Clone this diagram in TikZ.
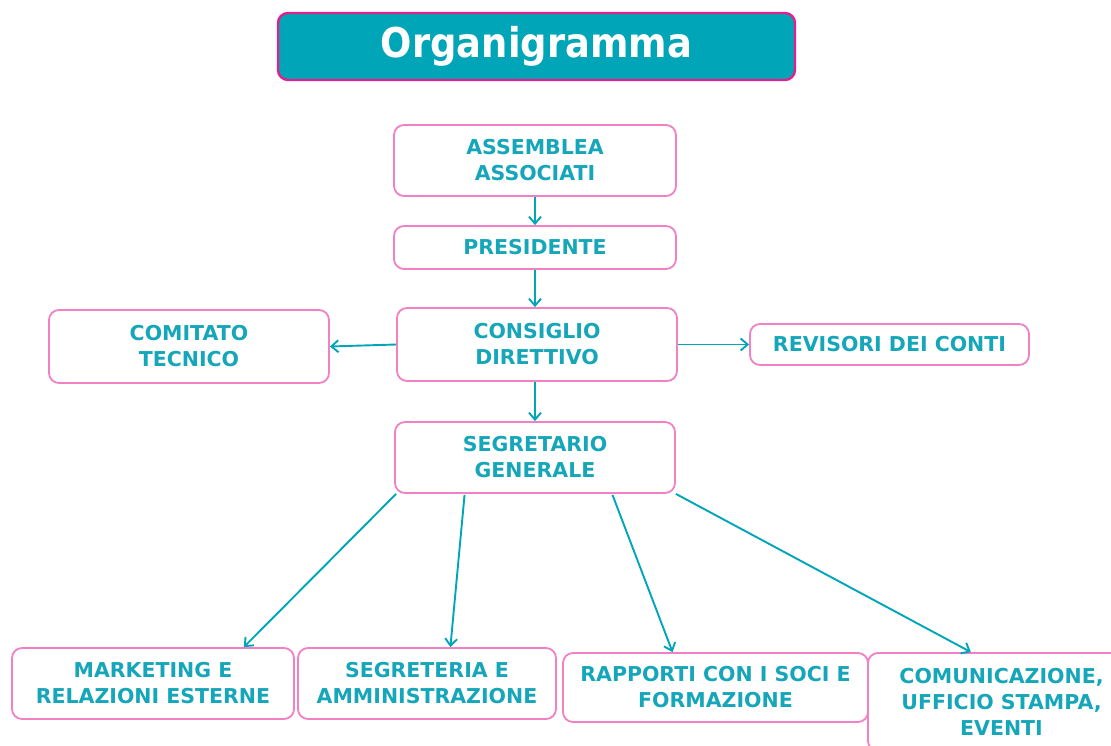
\documentclass[tikz,border=0pt]{standalone}
\usepackage{fontspec}
\setmainfont{DejaVu Sans}
\usetikzlibrary{arrows.meta,calc}
\definecolor{teal1}{RGB}{0,166,184}
\definecolor{tealtxt}{RGB}{22,166,186}
\definecolor{pinkb}{RGB}{242,128,196}
\definecolor{magb}{RGB}{228,30,140}
\tikzset{
  box/.style={draw=pinkb, line width=1.8pt, rounded corners=10pt, fill=white,
    inner sep=0pt, align=center, text=tealtxt,
    font=\fontsize{20.5}{26}\selectfont\bfseries},
  titlebox/.style={draw=magb, line width=2.4pt, rounded corners=10pt, fill=teal1,
    inner sep=0pt, text=white, font=\fontsize{41}{46}\selectfont\bfseries},
  arr/.style={draw=teal1, line width=1.9pt, -{Straight Barb[length=7pt,width=12pt,line width=1.9pt]}}
}
\begin{document}
\begin{tikzpicture}[x=1pt,y=-1pt]
\useasboundingbox (0,0) rectangle (1111,746);
\clip (0,0) rectangle (1111,746);
\node[titlebox, minimum width=517pt, minimum height=67pt] (title) at (536.5,46.5) {\scalebox{0.9}[1]{Organigramma}};
\node[box, minimum width=282pt, minimum height=71pt] (ass) at (535,160.5) {ASSEMBLEA\\ASSOCIATI};
\node[box, minimum width=282pt, minimum height=43pt] (pres) at (535,247.5) {PRESIDENTE};
\node[box, minimum width=280pt, minimum height=73pt] (cons) at (537,344.5) {CONSIGLIO\\DIRETTIVO};
\node[box, minimum width=280pt, minimum height=73pt] (com) at (189,346.5) {COMITATO\\TECNICO};
\node[box, minimum width=279pt, minimum height=41pt] (rev) at (889.5,344.5) {REVISORI DEI CONTI};
\node[box, minimum width=280pt, minimum height=71pt] (seg) at (535,457.5) {SEGRETARIO\\GENERALE};
\node[box, minimum width=282pt, minimum height=71pt] (mkt) at (153,683.5) {MARKETING E\\RELAZIONI ESTERNE};
\node[box, minimum width=258pt, minimum height=71pt] (sgr) at (427,683.5) {SEGRETERIA E\\AMMINISTRAZIONE};
\node[box, minimum width=305pt, minimum height=69pt] (rap) at (715.5,687.5) {RAPPORTI CON I SOCI E\\FORMAZIONE};
\node[box, minimum width=267pt, minimum height=98pt] (comu) at (1001.5,702) {COMUNICAZIONE,\\UFFICIO STAMPA,\\EVENTI};
\draw[arr] (ass.south) -- (pres.north);
\draw[arr] (pres.south) -- (pres.south |- cons.north);
\draw[arr] (cons.west) -- (com.east);
\draw[arr] (cons.east) -- (rev.west);
\draw[arr] (cons.south -| pres.south) -- (pres.south |- seg.north);
\draw[arr] ($(seg.south west)+(2,0)$) -- ($(mkt.north west)!0.82!(mkt.north east)$);
\draw[arr] ($(seg.south west)!0.25!(seg.south east)+(0,1)$) -- ($(sgr.north west)!0.59!(sgr.north east)$);
\draw[arr] ($(seg.south west)!0.775!(seg.south east)+(0,1)$) -- ($(rap.north west)!0.36!(rap.north east)$);
\draw[arr] (seg.south east) -- ($(comu.north west)!0.386!(comu.north east)$);
\end{tikzpicture}
\end{document}
